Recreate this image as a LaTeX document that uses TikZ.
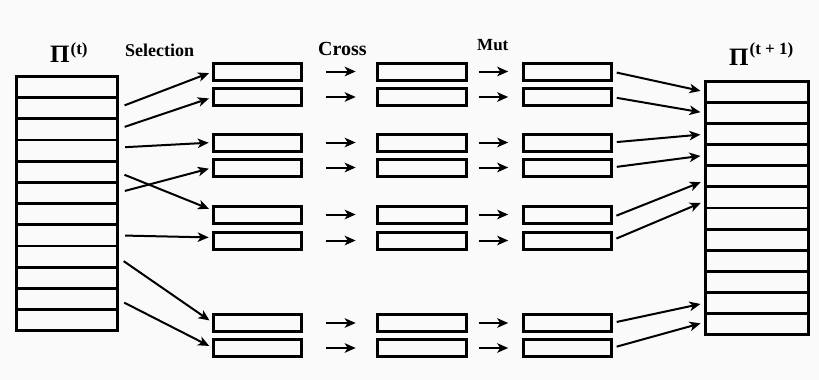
\documentclass[tikz,border=0pt]{standalone}
\usepackage{fontspec}
\setmainfont{Liberation Serif}
\usetikzlibrary{arrows.meta,calc}
\definecolor{paper}{RGB}{250,250,250}
\begin{document}
\begin{tikzpicture}[x=1pt,y=-1pt,
  cell/.style={draw,line width=2.8pt,inner sep=0,outer sep=0,minimum height=21.2pt},
  slot/.style={draw,line width=3pt,inner sep=0,outer sep=0,minimum width=88.6pt,minimum height=17pt},
  link/.style={line width=2pt,-{Stealth[length=11pt,width=9.5pt,inset=3pt]}},
  lbl/.style={inner sep=0,anchor=base west}
]
\fill[paper] (0,0) rectangle (819,380);
\useasboundingbox (0,0) rectangle (819,380);

% population at generation t
\foreach \i in {1,...,12}
  \node[cell,minimum width=100.7pt] (l\i) at (66.75,{76.4+21.2*(\i-0.5)}) {};
% population at generation t+1
\foreach \i in {1,...,12}
  \node[cell,minimum width=102.7pt] (r\i) at (756.75,{81.4+21.1*(\i-0.5)}) {};

% selected, crossed and mutated individuals
\foreach \y [count=\k] in {71.5,97,142.5,167.5,214.5,240.5,323,348} {
  \node[slot] (a\k) at (257.5,\y) {};
  \node[slot] (b\k) at (422,\y) {};
  \node[slot] (c\k) at (567.5,\y) {};
  \draw[link,shorten <=24pt,shorten >=22pt] (a\k) -- (b\k);
  \draw[link,shorten <=12.3pt,shorten >=15pt] (b\k) -- (c\k);
}

% selection
\begin{scope}[link,shorten <=8pt,shorten >=4.5pt]
  \draw (l2.east) -- (a1.west);
  \draw (l3.east) -- (a2.west);
  \draw ([yshift=3pt]l4.east) -- (a3.west);
  \draw (l6.east) -- (a4.west);
  \draw (l5.east) -- ([yshift=4pt]a5.west);
  \draw (l8.east) -- ([yshift=3pt]a6.west);
  \draw (l9.east) -- (a7.west);
  \draw (l11.east) -- (a8.west);
\end{scope}

% replacement
\begin{scope}[link,shorten <=5pt,shorten >=5pt]
  \draw (c1.east) -- (r1.west);
  \draw (c2.east) -- (r2.west);
  \draw (c3.east) -- (r3.west);
  \draw (c4.east) -- (r4.west);
  \draw ([yshift=-3pt]c5.east) -- ([yshift=-4pt]r5.west);
  \draw (c6.east) -- ([yshift=-3.5pt]r6.west);
  \draw (c7.east) -- (r11.west);
  \draw (c8.east) -- ([yshift=2pt]r12.west);
\end{scope}

% labels
\node[lbl,font=\bfseries] (pit) at (50,62.7)
  {{\fontsize{25}{25}\selectfont Π}\hspace{1pt}\raisebox{8.6pt}{\fontsize{17}{17}\selectfont (t)}};
\node[lbl,font=\bfseries] (pinext) at (729,65)
  {{\fontsize{25}{25}\selectfont Π}\hspace{1pt}\raisebox{11pt}{\fontsize{17}{17}\selectfont (t + 1)}};
\node[lbl,font=\bfseries\fontsize{18}{18}\selectfont] (sel) at (125,56) {Selection};
\node[lbl,font=\bfseries\fontsize{20}{20}\selectfont] (cross) at (318,55) {Cross};
\node[lbl,font=\bfseries\fontsize{17}{17}\selectfont] (mut) at (477,50.7) {Mut};
\end{tikzpicture}
\end{document}
